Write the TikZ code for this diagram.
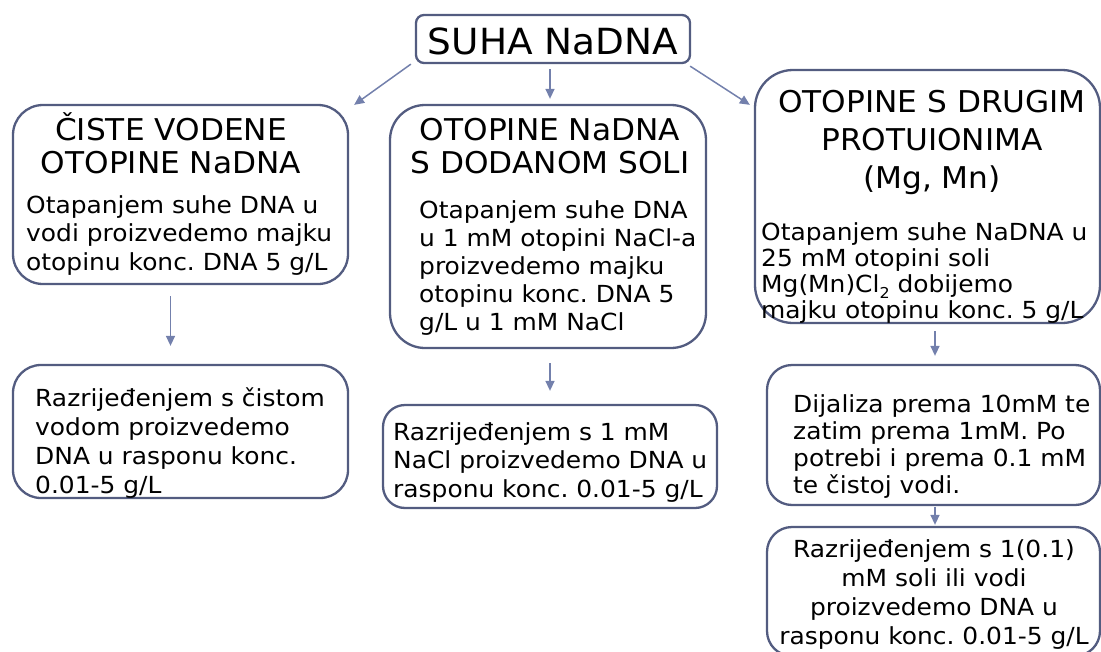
\documentclass[tikz,border=0pt]{standalone}
\usepackage{fontspec}
\setmainfont{DejaVu Sans}
\newfontfamily\bodyfont{DejaVu Sans}[FakeStretch=1.06]
\newfontfamily\ttlfont{DejaVu Sans}[FakeStretch=1.04]
\usetikzlibrary{arrows.meta,calc}
\definecolor{boxc}{HTML}{535C80}
\definecolor{arrc}{HTML}{7380AC}
\frenchspacing
\begin{document}
\begin{tikzpicture}[x=1pt,y=-1pt,
  box/.style={draw=boxc,line width=2.3pt,rounded corners=#1,inner sep=0pt},
  arr/.style={draw=arrc,line width=1.5pt,-{Triangle[length=10pt,width=9pt]}},
  body/.style={font=\bodyfont\fontsize{23.5}{#1}\selectfont,inner sep=0pt,align=left,anchor=north west},
  ttl/.style={font=\ttlfont\fontsize{30}{#1}\selectfont,inner sep=0pt,align=center,anchor=north}]
\useasboundingbox (0,0) rectangle (1101,651);
\clip (0,0) rectangle (1101,651);
% boxes
\node[box=8pt,minimum width=274pt,minimum height=48pt] (top) at (553,39) {};
\node[box=30pt,minimum width=335pt,minimum height=179pt] (b1) at (180.5,194.5) {};
\node[box=35pt,minimum width=316pt,minimum height=243pt] (b2) at (548,226.5) {};
\node[box=38pt,minimum width=345pt,minimum height=253pt] (b3) at (927.5,196.5) {};
\node[box=28pt,minimum width=335pt,minimum height=133pt] (b1b) at (180.5,431.5) {};
\node[box=22pt,minimum width=334pt,minimum height=103pt] (b2b) at (550,456.5) {};
\node[box=25pt,minimum width=333pt,minimum height=140pt] (b3b) at (933.5,435) {};
\node[box=25pt,minimum width=333pt,minimum height=129pt] (b3c) at (933.5,591.5) {};
% texts
\node[font=\ttlfont\fontsize{36}{40}\selectfont,inner sep=0pt,anchor=base] (ttop) at (553,54) {SUHA NaDNA};
\node[ttl=33] (t1) at (171,110) {\rule{0pt}{30pt}ČISTE VODENE\\OTOPINE NaDNA};
\node[body=28.5] (x1) at (26,191) {\rule{0pt}{22pt}Otapanjem suhe DNA u\\vodi proizvedemo majku\\otopinu konc. DNA 5 g/L};
\node[ttl=33] (t2) at (550,110) {\rule{0pt}{30pt}OTOPINE NaDNA\\S DODANOM SOLI};
\node[body=28] (x2) at (419,196) {\rule{0pt}{22pt}Otapanjem suhe DNA\\u 1 mM otopini NaCl-a\\proizvedemo majku\\otopinu konc. DNA 5\\g/L u 1 mM NaCl};
\node[ttl=38] (t3) at (932,82) {\rule{0pt}{30pt}OTOPINE S DRUGIM\\PROTUIONIMA\\(Mg, Mn)};
\node[body=26] (x3) at (761,218) {\rule{0pt}{22pt}Otapanjem suhe NaDNA u\\25 mM otopini soli\\Mg(Mn)Cl\raisebox{-0.25em}{\fontsize{15}{15}\selectfont 2} dobijemo\\majku otopinu konc. 5 g/L};
\node[body=29] (x1b) at (35,384) {\rule{0pt}{22pt}Razrijeđenjem s čistom\\vodom proizvedemo\\DNA u rasponu konc.\\0.01-5 g/L};
\node[body=28.5] (x2b) at (393,418) {\rule{0pt}{22pt}Razrijeđenjem s 1 mM\\NaCl proizvedemo DNA u\\rasponu konc. 0.01-5 g/L};
\node[body=27] (x3b) at (793,390) {\rule{0pt}{22pt}Dijaliza prema 10mM te\\zatim prema 1mM. Po\\potrebi i prema 0.1 mM\\te čistoj vodi.};
\node[body=29,align=center,anchor=north] (x3c) at (934,535) {\rule{0pt}{22pt}Razrijeđenjem s 1(0.1)\\mM soli ili vodi\\proizvedemo DNA u\\rasponu konc. 0.01-5 g/L};
% arrows
\draw[arr] ($(top.south west)+(-4,0)$) -- ($(b1.north east)+(5,1)$);
\draw[arr] ($(top.south)+(-3,5)$) -- ($(b2.north)+(2,-5)$);
\draw[arr] ($(top.south east)+(-1,2)$) -- ($(b3.north west)+(-4,36)$);
\draw[arr] ($(b1.south)+(-10,11)$) -- ($(b1b.north)+(-10,-18)$);
\draw[arr] ($(b2.south)+(2,14)$) -- ($(b2b.north)+(0,-13)$);
\draw[arr] ($(b3.south)+(7.5,7)$) -- ($(b3b.north)+(1.5,-8)$);
\draw[arr] ($(b3b.south)+(1.5,1)$) -- ($(b3c.north)+(1.5,-1)$);
\end{tikzpicture}
\end{document}
